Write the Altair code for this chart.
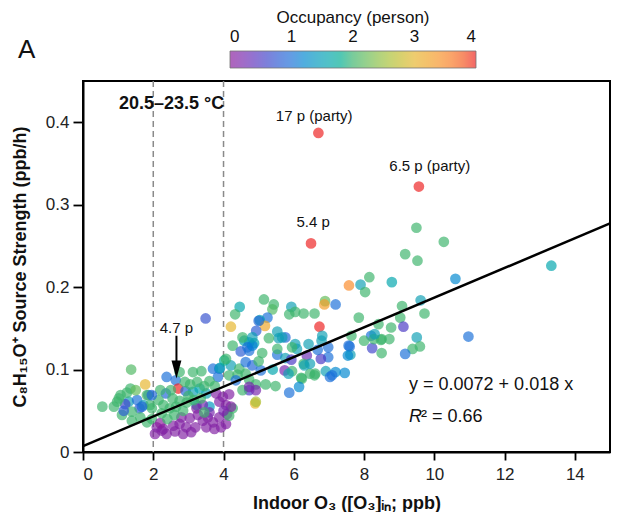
import altair as alt
import pandas as pd

# ---- data (indoor O3 ppb, source strength ppb/h, occupancy persons) ----
o3 = [
    0.55, 1.37, 1.77, 1.35, 1.30, 1.20, 1.61, 1.54, 1.86, 1.72, 1.07, 0.97, 1.11, 1.39, 1.63, 1.82,
    1.96, 1.39, 1.96, 0.88, 1.02, 1.91, 1.82, 1.68, 1.25, 1.50, 1.16,
    2.38, 2.64, 2.71, 2.36, 2.92, 3.13, 3.37, 3.70, 3.88, 3.84, 3.49, 3.13, 3.32, 3.51, 3.23, 3.60,
    3.79, 3.98, 4.16, 3.88, 4.07, 2.10, 2.24, 2.05, 2.38, 2.57, 2.75, 2.94, 2.85, 3.08, 2.80, 3.04,
    3.27, 3.41, 3.55, 3.70, 3.51, 3.74, 3.93, 4.07, 3.23, 3.41, 3.88, 4.10, 2.29, 2.20, 2.62, 3.20, 3.60,
    2.15, 2.29, 2.24, 2.47, 2.55, 2.65, 2.75, 2.85, 2.95, 3.00, 2.60, 2.40, 3.05, 3.25, 3.45, 3.60,
    3.15, 3.35, 2.75, 2.90, 2.50, 3.75, 3.45, 2.20, 1.96,
    4.21, 5.15, 4.46, 4.33, 5.43, 5.39, 5.93, 5.87, 6.04, 6.28, 6.59, 5.25, 5.03, 5.18, 4.93, 5.53,
    5.76, 5.57, 5.29, 4.26, 4.59, 4.73, 4.87, 4.49, 4.73, 6.04, 6.09, 5.53, 5.76, 5.93, 3.90, 4.21,
    4.16, 4.40, 4.63, 5.06, 5.74, 5.40, 5.95, 6.21, 4.73, 4.92, 5.20, 5.48, 5.87, 4.73, 4.90,
    4.02, 4.07, 4.45, 4.63, 4.82, 4.35, 4.54, 4.26, 4.16, 4.21, 4.00, 4.54, 4.68, 4.82, 4.82, 5.00,
    4.73, 4.92, 4.92, 5.10, 5.00, 5.67, 5.53, 5.95, 6.42, 6.79, 6.98, 6.98, 6.46, 5.85,
    6.70, 9.56, 6.49, 6.89, 6.87, 7.19, 7.57, 7.90, 8.15, 8.03, 8.79, 7.85, 6.73, 6.81, 7.64, 8.20,
    8.00, 8.50, 8.72, 7.56, 7.61, 8.23, 8.50, 6.37, 6.77, 6.68, 6.28, 6.46, 6.61, 6.91, 7.19, 7.45,
    7.03, 6.23, 6.15, 6.30, 7.59, 7.54, 8.28, 8.48, 8.30, 8.41, 8.77, 6.59, 7.09,
    9.49, 10.27, 9.17, 9.52, 13.33, 10.60, 9.08, 9.61, 9.72, 9.03, 9.12, 9.50, 9.38, 9.59, 10.97, 9.17,
]
strength = [
    0.055, 0.100, 0.082, 0.077, 0.061, 0.058, 0.053, 0.063, 0.069, 0.057, 0.069, 0.061, 0.045, 0.038, 0.042, 0.036,
    0.040, 0.049, 0.053, 0.055, 0.065, 0.057, 0.069, 0.055, 0.072, 0.075, 0.050,
    0.091, 0.087, 0.077, 0.071, 0.074, 0.097, 0.098, 0.101, 0.101, 0.091, 0.162, 0.073, 0.077, 0.071, 0.057, 0.055,
    0.071, 0.067, 0.070, 0.061, 0.057, 0.030, 0.026, 0.022, 0.022, 0.032, 0.034, 0.030, 0.022, 0.024, 0.042, 0.041,
    0.045, 0.038, 0.042, 0.036, 0.030, 0.028, 0.030, 0.034, 0.053, 0.057, 0.042, 0.046, 0.028, 0.035, 0.025, 0.030, 0.048,
    0.063, 0.057, 0.047, 0.053, 0.065, 0.055, 0.062, 0.050, 0.060, 0.068, 0.045, 0.040, 0.082, 0.085, 0.080, 0.086,
    0.063, 0.065, 0.097, 0.085, 0.075, 0.080, 0.048, 0.075, 0.069,
    0.152, 0.185, 0.176, 0.167, 0.179, 0.173, 0.176, 0.167, 0.170, 0.168, 0.168, 0.163, 0.160, 0.153, 0.147, 0.146,
    0.139, 0.138, 0.138, 0.129, 0.135, 0.133, 0.132, 0.122, 0.123, 0.131, 0.125, 0.118, 0.114, 0.112, 0.102, 0.105,
    0.093, 0.094, 0.095, 0.099, 0.099, 0.100, 0.098, 0.090, 0.088, 0.082, 0.082, 0.080, 0.072, 0.075, 0.059,
    0.111, 0.113, 0.101, 0.109, 0.105, 0.087, 0.075, 0.053, 0.044, 0.055, 0.050, 0.139, 0.127, 0.129, 0.139, 0.159,
    0.079, 0.075, 0.061, 0.120, 0.110, 0.139, 0.125, 0.127, 0.131, 0.135, 0.127, 0.115, 0.095, 0.095,
    0.387, 0.322, 0.253, 0.183, 0.179, 0.179, 0.202, 0.203, 0.212, 0.194, 0.206, 0.163, 0.152, 0.141, 0.141, 0.141,
    0.135, 0.137, 0.137, 0.129, 0.118, 0.126, 0.120, 0.117, 0.113, 0.124, 0.107, 0.107, 0.095, 0.098, 0.097, 0.096,
    0.091, 0.089, 0.079, 0.105, 0.128, 0.117, 0.137, 0.136, 0.143, 0.155, 0.151, 0.093, 0.093,
    0.272, 0.255, 0.240, 0.232, 0.226, 0.210, 0.177, 0.184, 0.168, 0.163, 0.152, 0.139, 0.125, 0.128, 0.140, 0.119,
]
occupancy = [
    2.0, 2.1, 3.0, 2.0, 1.5, 0.6, 0.8, 1.0, 1.1, 1.5, 2.0, 2.0, 2.0, 2.0, 2.0, 2.0,
    2.0, 2.0, 2.0, 2.0, 2.0, 2.0, 2.1, 0.9, 2.0, 2.2, 0.8,
    1.0, 1.0, 4.7, 0.9, 0.9, 2.0, 2.0, 1.0, 1.1, 1.0, 0.7, 1.5, 1.6, 1.5, 1.6, 1.4,
    0.1, 0.1, 0.1, 0.1, 0.1, 0.1, 0.1, 0.1, 0.1, 0.1, 0.1, 0.1, 0.1, 0.1, 0.1, 0.1,
    0.1, 0.1, 0.1, 0.1, 0.1, 0.1, 0.1, 0.1, 0.1, 0.2, 0.1, 0.1, 0.1, 0.0, 0.1, 0.1, 0.2,
    2.0, 2.0, 2.0, 2.0, 2.0, 2.0, 2.0, 2.0, 2.0, 2.0, 2.0, 2.0, 2.0, 2.0, 2.0, 2.0,
    2.0, 2.0, 2.0, 2.0, 2.0, 2.0, 2.0, 2.0, 0.9,
    3.0, 2.0, 1.6, 2.0, 2.0, 2.1, 1.5, 2.0, 2.0, 2.0, 2.0, 1.0, 1.6, 3.2, 0.8, 1.5,
    0.9, 1.5, 2.0, 2.0, 1.6, 1.5, 1.6, 0.8, 1.0, 1.5, 1.5, 1.0, 1.5, 0.5, 1.5, 1.5,
    2.0, 2.0, 2.0, 1.0, 0.2, 1.6, 2.0, 2.0, 2.0, 2.0, 2.0, 2.0, 1.0, 0.5, 3.0,
    1.8, 2.0, 2.0, 1.0, 0.9, 1.0, 2.0, 2.0, 2.0, 0.1, 0.2, 2.0, 1.0, 1.1, 1.5, 0.9,
    0.2, 0.2, 2.6, 2.0, 2.0, 1.5, 2.0, 2.0, 1.5, 1.5, 1.0, 1.0, 2.0, 1.5,
    17.0, 6.5, 5.4, 2.2, 3.3, 1.0, 3.5, 1.5, 2.0, 2.0, 1.6, 2.0, 4.0, 1.5, 2.0, 1.0,
    2.0, 2.0, 2.0, 1.0, 1.5, 0.6, 2.0, 0.3, 0.5, 1.0, 2.0, 1.5, 2.0, 1.5, 1.2, 1.2,
    1.0, 2.0, 1.2, 1.5, 1.0, 1.2, 2.0, 2.0, 1.5, 2.0, 2.0, 2.0, 1.0,
    2.0, 2.0, 2.0, 2.0, 1.6, 1.2, 2.0, 1.5, 2.0, 2.0, 0.5, 1.5, 2.0, 2.0, 1.0, 1.0,
]

# regression line and its coefficients (from the reference annotation)
fit_intercept = 0.0072
fit_slope = 0.018
fit_x = [0, 15]

# colour bar stops (occupancy -> colour)
occ_stops = [0, 0.5, 1, 1.5, 2, 2.5, 3, 3.5, 4]
occ_colors = ["#8a1c9c", "#4a38c4", "#1a70d8", "#0f9fb4", "#3cb46c",
              "#9cc13c", "#e6b52c", "#fa8a2a", "#ee2020"]

x_ticks = [0, 2, 4, 6, 8, 10, 12, 14]
y_ticks = [0, 0.1, 0.2, 0.3, 0.4]
temp_lines = [2, 4]

labels_txt = ["17 p (party)", "6.5 p (party)", "5.4 p", "4.7 p"]
labels_x = [6.58, 9.87, 6.55, 2.66]
labels_y = [0.408, 0.3475, 0.279, 0.150]

FONT = "Liberation Sans, Arial, sans-serif"

pts = pd.DataFrame({"o3": o3, "s": strength, "occ": occupancy})
fit = pd.DataFrame({"o3": fit_x, "s": [fit_intercept + fit_slope * v for v in fit_x]})
vl = pd.DataFrame({"o3": temp_lines})
ann = pd.DataFrame({"o3": labels_x, "s": labels_y, "t": labels_txt})

xs = alt.Scale(domain=[0, 15], nice=False, zero=False)
ys = alt.Scale(domain=[0, 0.45], nice=False, zero=False)

X = alt.X("o3:Q", scale=xs,
          axis=alt.Axis(values=x_ticks, title="Indoor O₃ ([O₃]ᵢₙ; ppb)", titlePadding=12,
                        tickSize=8, labelPadding=6))
Y = alt.Y("s:Q", scale=ys,
          axis=alt.Axis(values=y_ticks, format=".1~f", tickSize=10, labelPadding=4,
                        title="C₈H₁₅O⁺ Source Strength (ppb/h)", titlePadding=16))

dashes = alt.Chart(vl).mark_rule(color="#8a8a8a", strokeDash=[6, 4], strokeWidth=1.5).encode(
    x=alt.X("o3:Q", scale=xs))

points = alt.Chart(pts).mark_circle(size=115, opacity=0.68).encode(
    x=X, y=Y,
    color=alt.Color("occ:Q",
                    scale=alt.Scale(domain=occ_stops, range=occ_colors, clamp=True),
                    legend=alt.Legend(
                        orient="none", legendX=147, legendY=-71, direction="horizontal",
                        gradientLength=246, gradientThickness=17,
                        gradientStrokeColor="#333", gradientStrokeWidth=0.8,
                        title="Occupancy (person)", titleFontSize=17, titleFontWeight="normal",
                        titleFont=FONT, titleColor="#111", titleAnchor="middle", titlePadding=24,
                        labelFontSize=17, labelFont=FONT, labelColor="#111",
                        labelOffset=alt.ExprRef("-39"),
                        values=[0, 1, 2, 3, 4], padding=0)))

line = alt.Chart(fit).mark_line(color="black", strokeWidth=2.5).encode(
    x=alt.X("o3:Q", scale=xs), y=alt.Y("s:Q", scale=ys))

ann_text = alt.Chart(ann).mark_text(fontSize=15, font=FONT, color="#111").encode(
    x=alt.X("o3:Q", scale=xs), y=alt.Y("s:Q", scale=ys), text="t:N")

temp_df = pd.DataFrame({"o3": [2.52], "s": [0.4227], "t": ["20.5–23.5 °C"]})
temp_text = alt.Chart(temp_df).mark_text(fontSize=18, fontWeight="bold", font=FONT, color="#111").encode(
    x=alt.X("o3:Q", scale=xs), y=alt.Y("s:Q", scale=ys), text="t:N")

arrow_df = pd.DataFrame({"o3": [2.66], "s": [0.141], "s2": [0.104]})
arrow_shaft = alt.Chart(arrow_df).mark_rule(color="black", strokeWidth=2).encode(
    x=alt.X("o3:Q", scale=xs), y=alt.Y("s:Q", scale=ys), y2="s2:Q")
head_df = pd.DataFrame({"o3": [2.66], "s": [0.1002]})
arrow_head = alt.Chart(head_df).mark_point(
    shape="M-0.55,-1L0.55,-1L0,1Z", size=324, filled=True, color="black", opacity=1).encode(
    x=alt.X("o3:Q", scale=xs), y=alt.Y("s:Q", scale=ys))

eq_df = pd.DataFrame({"o3": [9.28], "s": [0.0808], "t": ["y = 0.0072 + 0.018 x"]})
eq_text = alt.Chart(eq_df).mark_text(fontSize=18, font=FONT, align="left", color="#111").encode(
    x=alt.X("o3:Q", scale=xs), y=alt.Y("s:Q", scale=ys), text="t:N")
r_df = pd.DataFrame({"o3": [9.28], "s": [0.0424], "t": ["R"]})
r_text = alt.Chart(r_df).mark_text(fontSize=18, font=FONT, align="left", fontStyle="italic", color="#111").encode(
    x=alt.X("o3:Q", scale=xs), y=alt.Y("s:Q", scale=ys), text="t:N")
r2_df = pd.DataFrame({"o3": [9.28], "s": [0.0424], "t": ["² = 0.66"]})
r2_text = alt.Chart(r2_df).mark_text(fontSize=18, font=FONT, align="left", dx=12, color="#111").encode(
    x=alt.X("o3:Q", scale=xs), y=alt.Y("s:Q", scale=ys), text="t:N")

panel = alt.Chart(pd.DataFrame({"t": ["A"]})).mark_text(
    fontSize=26, font=FONT, align="left", baseline="middle", color="#111").encode(
    x=alt.value(-65), y=alt.value(-31), text="t:N")

chart = alt.layer(
    dashes, points, line, ann_text, temp_text, arrow_shaft, arrow_head, eq_text, r_text, r2_text, panel
).properties(
    width=527, height=371,
    autosize=alt.AutoSizeParams(type="none"),
    padding={"left": 75, "top": 73, "right": 2, "bottom": 60},
).configure(
    background="white"
).configure_view(
    stroke="black", strokeWidth=2
).configure_axis(
    grid=False, domainColor="black", domainWidth=2, tickColor="black", tickWidth=1.8,
    labelFontSize=17, labelFont=FONT, labelColor="#222",
    titleFontSize=18, titleFont=FONT, titleFontWeight="bold", titleColor="#111",
)

chart.save("out.html", embed_options={"renderer": "svg", "actions": False})
